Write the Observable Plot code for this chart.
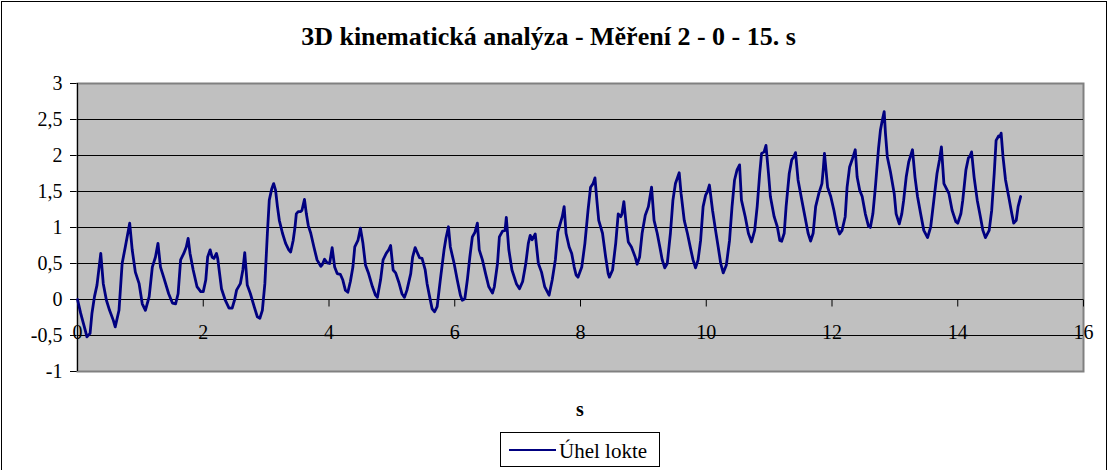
<!DOCTYPE html>
<html><head><meta charset="utf-8">
<script src="https://cdn.jsdelivr.net/npm/d3@7"></script>
<script src="https://cdn.jsdelivr.net/npm/@observablehq/plot@0.6"></script>
<style>
html,body,#chart,#chart *,svg,svg text{font-family:'Liberation Serif',serif !important}
body{margin:0;background:#fff;overflow:hidden}
#chart{position:relative;width:1111px;height:470px;color:#000}
#border{position:absolute;left:1px;top:1px;width:1106px;height:490px;border:1px solid #000;box-sizing:border-box}
#plot{position:absolute;left:0;top:0}
.lbl{position:absolute;line-height:1;white-space:nowrap}
#title{left:0;width:1097px;top:24px;text-align:center;font-weight:bold;font-size:26px}
#xtitle{left:0;width:1160px;top:399px;text-align:center;font-weight:bold;font-size:20px}
#legend{position:absolute;left:500px;top:432px;width:160px;height:35px;border:1px solid #000;box-sizing:border-box;background:#fff}
#legline{position:absolute;left:8px;top:16px;width:47px;height:0;border-top:2px solid #000080}
#legtext{left:58px;top:8px;font-size:21px}
</style></head>
<body>
<div id="chart">
  <div id="plot"></div>
  <div id="border"></div>
  <div id="title" class="lbl">3D kinematická analýza - Měření 2 - 0 - 15. s</div>
  <div id="xtitle" class="lbl">s</div>
  <div id="legend"><div id="legline"></div><div id="legtext" class="lbl">Úhel lokte</div></div>
</div>
<script>
const seriesName = "Úhel lokte";
const yTicks = [-1, -0.5, 0, 0.5, 1, 1.5, 2, 2.5, 3];
const gridValues = [-0.5, 0, 0.5, 1, 1.5, 2, 2.5];
const xTicks = [0, 2, 4, 6, 8, 10, 12, 14, 16];

const times = [
0.00,0.05,0.13,0.15,0.20,0.23,0.27,0.31,0.37,0.41,0.46,0.51,0.57,0.60,0.66,0.71,0.76,0.83,0.87,0.92,0.98,
1.03,1.08,1.14,1.19,1.24,1.28,1.32,1.37,1.45,1.51,1.56,1.60,1.64,1.69,1.73,1.76,1.79,1.84,1.90,1.96,2.00,
2.04,2.07,2.11,2.14,2.17,2.21,2.23,2.29,2.35,2.41,2.46,2.50,2.53,2.59,2.63,2.66,2.70,2.75,2.81,2.86,2.90,
2.94,2.98,3.02,3.05,3.09,3.12,3.15,3.18,3.21,3.26,3.31,3.36,3.39,3.43,3.46,3.48,3.51,3.55,3.57,3.61,3.64,
3.67,3.71,3.76,3.81,3.87,3.89,3.93,3.97,4.01,4.05,4.09,4.13,4.18,4.22,4.26,4.30,4.34,4.38,4.41,4.46,4.50,
4.54,4.58,4.63,4.69,4.74,4.77,4.82,4.86,4.91,4.95,4.98,5.02,5.06,5.11,5.16,5.20,5.24,5.30,5.33,5.37,5.40,
5.44,5.48,5.53,5.56,5.60,5.64,5.68,5.72,5.77,5.83,5.86,5.90,5.93,5.99,6.04,6.09,6.12,6.16,6.20,6.24,6.28,
6.32,6.36,6.39,6.44,6.49,6.54,6.60,6.63,6.68,6.71,6.76,6.80,6.82,6.86,6.91,6.98,7.03,7.08,7.13,7.17,7.20,
7.23,7.28,7.33,7.38,7.43,7.50,7.55,7.60,7.64,7.67,7.71,7.74,7.77,7.82,7.86,7.90,7.93,7.96,8.02,8.07,8.12,
8.16,8.20,8.23,8.26,8.29,8.35,8.40,8.44,8.46,8.51,8.56,8.60,8.64,8.66,8.69,8.73,8.76,8.81,8.87,8.90,8.94,
8.98,9.03,9.08,9.13,9.17,9.22,9.27,9.30,9.34,9.38,9.43,9.47,9.51,9.57,9.60,9.65,9.70,9.75,9.79,9.83,9.87,
9.91,9.95,9.99,10.02,10.05,10.10,10.15,10.19,10.23,10.27,10.32,10.37,10.41,10.45,10.49,10.53,10.56,10.62,
10.67,10.72,10.77,10.81,10.85,10.88,10.92,10.95,10.99,11.02,11.08,11.13,11.17,11.20,11.24,11.27,11.32,
11.36,11.39,11.42,11.46,11.52,11.57,11.62,11.66,11.70,11.74,11.79,11.84,11.86,11.88,11.93,11.98,12.03,
12.08,12.12,12.16,12.21,12.24,12.28,12.32,12.37,12.40,12.44,12.48,12.53,12.58,12.61,12.65,12.69,12.74,
12.77,12.80,12.83,12.85,12.88,12.93,12.99,13.02,13.07,13.11,13.14,13.18,13.22,13.28,13.32,13.36,13.41,
13.46,13.52,13.57,13.62,13.67,13.71,13.74,13.78,13.82,13.86,13.91,13.97,14.00,14.05,14.08,14.13,14.17,
14.19,14.22,14.26,14.31,14.36,14.40,14.44,14.50,14.54,14.58,14.61,14.65,14.67,14.69,14.72,14.76,14.81,
14.86,14.89,14.93,14.96,15.00
];
const values = [
0.00,-0.19,-0.45,-0.52,-0.47,-0.19,0.04,0.20,0.64,0.22,-0.01,-0.15,-0.29,-0.38,-0.15,0.50,0.73,1.06,0.69,0.38,0.22,
-0.06,-0.15,0.04,0.45,0.59,0.78,0.45,0.31,0.08,-0.05,-0.06,0.08,0.55,0.64,0.73,0.85,0.64,0.41,0.18,0.11,0.11,
0.27,0.59,0.69,0.59,0.57,0.64,0.57,0.15,-0.01,-0.12,-0.12,0.00,0.13,0.22,0.41,0.65,0.20,0.08,-0.10,-0.24,-0.26,
-0.15,0.22,0.92,1.38,1.54,1.61,1.52,1.29,1.10,0.92,0.78,0.69,0.66,0.82,1.01,1.19,1.22,1.22,1.24,1.39,1.19,
1.03,0.92,0.73,0.55,0.46,0.48,0.56,0.51,0.50,0.72,0.45,0.36,0.35,0.27,0.13,0.10,0.25,0.45,0.73,0.82,0.99,
0.78,0.48,0.36,0.18,0.06,0.03,0.27,0.55,0.64,0.69,0.75,0.41,0.37,0.24,0.08,0.03,0.13,0.36,0.59,0.72,0.66,
0.58,0.57,0.41,0.22,0.04,-0.13,-0.17,-0.10,0.27,0.69,0.85,1.01,0.73,0.50,0.27,0.06,-0.01,0.01,0.27,0.59,0.87,
0.93,1.06,0.69,0.55,0.36,0.18,0.09,0.18,0.50,0.87,0.95,0.96,1.14,0.69,0.41,0.22,0.15,0.25,0.50,0.78,0.89,
0.83,0.91,0.50,0.38,0.18,0.06,0.27,0.55,0.94,1.03,1.15,1.29,0.92,0.73,0.64,0.45,0.34,0.31,0.45,0.78,1.24,
1.56,1.61,1.69,1.38,1.10,0.92,0.59,0.36,0.31,0.41,0.78,1.19,1.15,1.19,1.36,1.01,0.80,0.73,0.59,0.49,0.59,
0.92,1.17,1.29,1.56,1.10,0.92,0.69,0.55,0.44,0.50,0.92,1.38,1.61,1.76,1.47,1.10,0.92,0.71,0.55,0.44,0.55,
0.82,1.29,1.45,1.50,1.59,1.24,0.95,0.73,0.50,0.37,0.48,0.82,1.29,1.66,1.80,1.87,1.38,1.15,
0.92,0.80,0.96,1.29,1.75,2.03,2.05,2.14,1.75,1.43,1.15,1.01,0.82,0.81,0.92,1.29,1.75,
1.94,1.98,2.04,1.66,1.38,1.15,0.92,0.81,0.92,1.29,1.47,1.61,1.80,2.03,1.56,1.43,1.24,
1.01,0.91,0.96,1.15,1.56,1.84,1.94,2.08,1.70,1.52,1.43,1.19,1.02,1.00,1.19,1.56,2.10,
2.35,2.49,2.61,2.31,1.98,1.77,1.47,1.19,1.05,1.19,1.38,1.70,1.91,2.08,1.70,1.43,1.19,
0.96,0.86,1.01,1.38,1.75,1.94,2.12,1.61,1.54,1.47,1.24,1.08,1.06,1.19,1.38,1.80,1.97,
1.98,2.05,1.70,1.38,1.15,0.96,0.86,0.96,1.24,1.75,2.21,2.27,2.26,2.31,1.98,1.66,1.43,
1.19,1.06,1.10,1.29,1.43
];

const data = times.map((t, i) => ({t, v: values[i], series: seriesName}));
const tickSymbol = {draw(ctx) { ctx.moveTo(0, 0); ctx.lineTo(0, 7); }};

const chart = Plot.plot({
  width: 1111, height: 470,
  marginLeft: 77, marginRight: 28, marginTop: 83, marginBottom: 99,
  style: {background: "transparent", fontSize: "20px", color: "#000", overflow: "visible"},
  x: {domain: [0, 16], axis: null},
  y: {domain: [-1, 3], ticks: yTicks, tickSize: 7, tickPadding: 8, label: null,
      tickFormat: d => String(d).replace(".", ",")},
  marks: [
    Plot.frame({fill: "#C0C0C0", stroke: "#808080", strokeWidth: 2}),
    Plot.ruleY(gridValues, {stroke: "#000", strokeWidth: 1}),
    Plot.ruleX([0], {stroke: "#000", strokeWidth: 1}),
    Plot.dot(xTicks, {x: d => d, y: 0, symbol: tickSymbol, stroke: "#000", fill: "none", strokeWidth: 1}),
    Plot.text(xTicks, {x: d => d, y: 0, text: d => String(d), dy: 33, fontSize: 20, fill: "#000"}),
    Plot.line(data, {x: "t", y: "v", stroke: "#000080", strokeWidth: 2.8, strokeLinejoin: "round"})
  ]
});
document.getElementById("plot").appendChild(chart);
</script>
</body></html>
